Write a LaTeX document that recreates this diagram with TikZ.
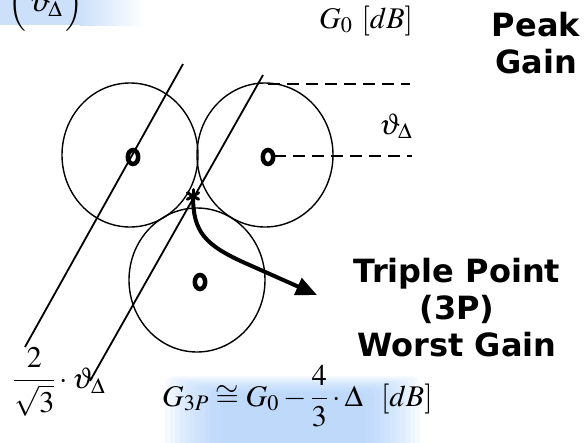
\documentclass[tikz,border=0pt]{standalone}
\usepackage{mathptmx}
\usepackage{fontspec}
\usetikzlibrary{arrows.meta,calc}
\newfontfamily\boldsans{DejaVu Sans}
\definecolor{hiblue}{RGB}{205,224,250}
\definecolor{glowblue}{RGB}{170,205,250}
\tikzset{beamcirc/.style={draw,line width=1.4pt},
  peakdot/.style={draw,line width=4.5pt},
  cutline/.style={draw,line width=1.8pt},
  levelline/.style={draw,line width=1.8pt,dash pattern=on 12pt off 7pt},
  mathlbl/.style={inner sep=0pt,font=\fontsize{30}{34}\selectfont},
  boldlbl/.style={inner sep=0pt,align=center,font=\boldsans\bfseries\fontsize{32}{37}\selectfont},
  petal/.style={draw,line width=3pt,line cap=round},
  glow/.style={fill=glowblue,fill opacity=0.11,rounded corners=8pt},
  worstarrow/.style={draw,line width=4pt,-{Triangle[length=21pt,width=18pt]}}
}
\begin{document}
\begin{tikzpicture}[x=1pt,y=-1pt]
  \useasboundingbox (0,0) rectangle (586,442);
  \clip (0,0) rectangle (586,442);
  \fill[hiblue] (0,0) rectangle (80,25);
  \shade[left color=hiblue,right color=white] (80,0) rectangle (145,25);
  \foreach \i in {0,...,11}
    \path[glow] (165+5*\i,376+1.5*\i) rectangle (420-5*\i,470);
  \coordinate (cL) at (130,155);
  \coordinate (cR) at (265,155);
  \coordinate (cB) at (197,280);
  \coordinate (tp) at (193,196);
  \draw[beamcirc] (cL) ellipse [x radius=68pt,y radius=72pt];
  \draw[beamcirc] (cR) ellipse [x radius=68pt,y radius=72pt];
  \draw[beamcirc] (cB) ellipse [x radius=68pt,y radius=72pt];
  \draw[cutline] (183,64) -- (25,347);
  \draw[cutline] (263,75) -- (90,381);
  \coordinate (topend) at (410,84);
  \coordinate (topstart) at (268,84);
  \coordinate (midend) at (412,156);
  \draw[levelline] (topstart) -- (topend);
  \draw[levelline] ($(cR)+(9,1)$) -- (midend);
  \foreach \c in {cL,cR,cB}
    \draw[peakdot] ($(\c)+(3,2)$) ellipse [x radius=5.2pt,y radius=7pt];
  \foreach \a in {30,90,...,330}
    \draw[petal] (tp) -- ++(\a:6.5pt);
  \coordinate (tip) at (317,295);
  \draw[worstarrow] (tp) .. controls (193,232) and (205,245) .. (245,263) -- (tip);
  \node[mathlbl,anchor=base west] (gain0) at (319,28) {$G_0\ [dB]$};
  \node[boldlbl] (peak) at (536,43) {Peak\\Gain};
  \node[mathlbl,anchor=base west] (spacing) at (379,134) {$\vartheta_\Delta$};
  \node[boldlbl] (triple) at (457,308) {Triple Point\\(3P)\\Worst Gain};
  \node[mathlbl,anchor=base west] (gain3p) at (162,406) {$\displaystyle G_{3P}\cong G_0-\frac{4}{3}\cdot\Delta\ \ [dB]$};
  \node[mathlbl,anchor=west] (cutsep) at (13,382) {$\displaystyle\frac{2}{\sqrt{3}}\cdot\vartheta_\Delta$};
  \node[mathlbl] (corner) at (46,4) {$\Bigl(\,\vartheta_\Delta\,\Bigr)$};
\end{tikzpicture}
\end{document}
